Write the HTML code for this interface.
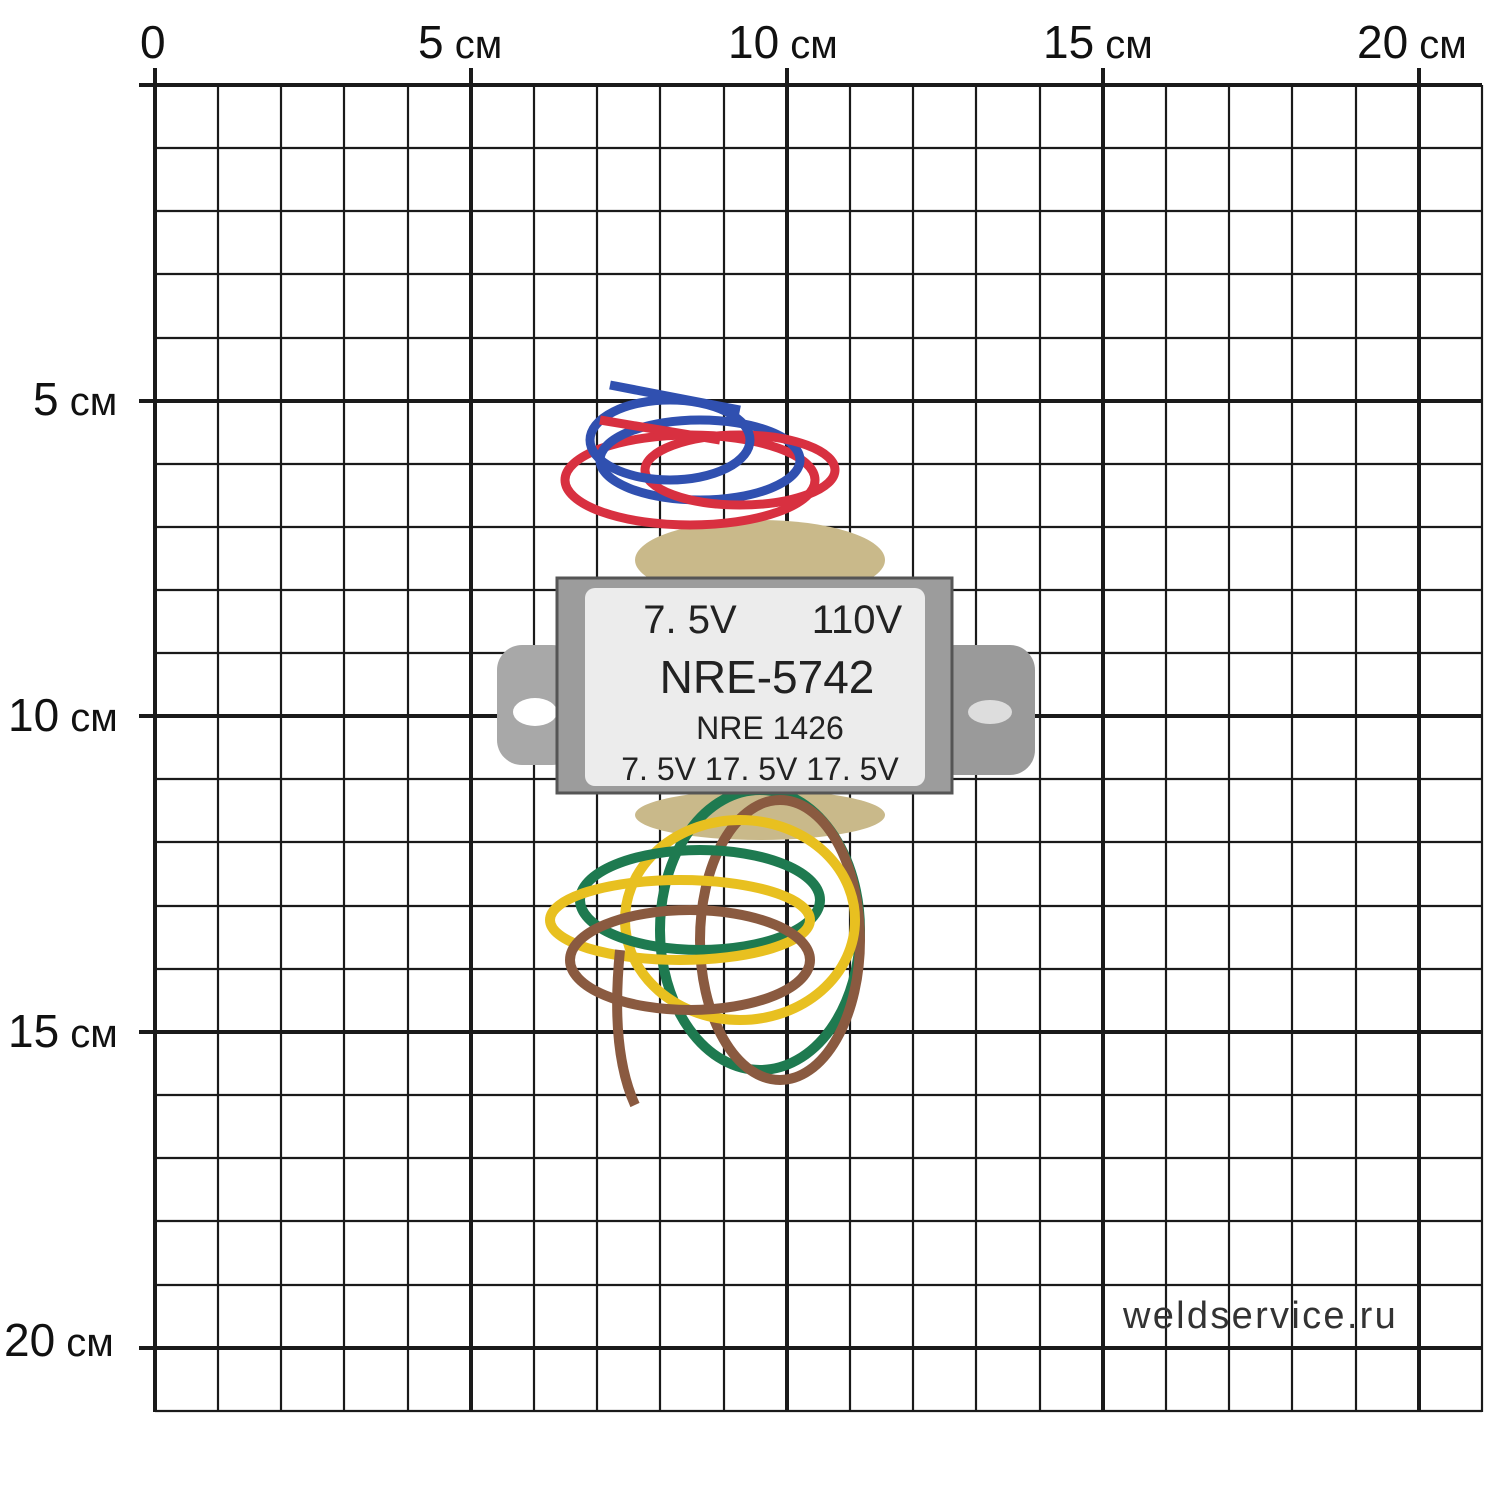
<!DOCTYPE html>
<html><head><meta charset="utf-8"><style>
html,body{margin:0;padding:0;background:#fff;}
svg{display:block}
</style></head><body>
<svg width="1500" height="1500" viewBox="0 0 1500 1500" xmlns="http://www.w3.org/2000/svg" font-family="Liberation Sans, sans-serif">
<rect width="1500" height="1500" fill="#fff"/>
<g stroke="#1a1a1a" stroke-width="2.2">
<path d="M218 85V1412M281 85V1412M344 85V1412M408 85V1412M534 85V1412M597 85V1412M660 85V1412M724 85V1412M850 85V1412M913 85V1412M976 85V1412M1040 85V1412M1166 85V1412M1229 85V1412M1292 85V1412M1356 85V1412M1482 85V1412"/>
<path d="M155 148H1482M155 211H1482M155 274H1482M155 338H1482M155 464H1482M155 527H1482M155 590H1482M155 653H1482M155 779H1482M155 842H1482M155 906H1482M155 969H1482M155 1095H1482M155 1158H1482M155 1221H1482M155 1285H1482M155 1411H1482"/>
</g>
<g stroke="#1a1a1a" stroke-width="4">
<path d="M155 68V1412M471 68V1412M787 68V1412M1103 68V1412M1419 68V1412"/>
<path d="M139 85H1482M139 401H1482M139 716H1482M139 1032H1482M139 1348H1482"/>
</g>
<g fill="#111" font-size="46">
<text x="140" y="58">0</text>
<text x="418" y="58">5<tspan font-size="40"> см</tspan></text>
<text x="728" y="58">10<tspan font-size="40"> см</tspan></text>
<text x="1043" y="58">15<tspan font-size="40"> см</tspan></text>
<text x="1357" y="58">20<tspan font-size="40"> см</tspan></text>
<text x="33" y="415">5<tspan font-size="40"> см</tspan></text>
<text x="8" y="731">10<tspan font-size="40"> см</tspan></text>
<text x="8" y="1047">15<tspan font-size="40"> см</tspan></text>
<text x="4" y="1356">20<tspan font-size="40"> см</tspan></text>
</g>
<text x="1123" y="1328" font-size="38" fill="#333" letter-spacing="2.3">weldservice.ru</text>
<!-- top wires -->
<ellipse cx="760" cy="560" rx="125" ry="40" fill="#c9b98a"/>
<g fill="none" stroke-width="9">
<ellipse cx="690" cy="480" rx="125" ry="45" stroke="#d83040"/>
<ellipse cx="700" cy="460" rx="100" ry="40" stroke="#3050b0"/>
<ellipse cx="740" cy="470" rx="95" ry="35" stroke="#d83040"/>
<ellipse cx="670" cy="440" rx="80" ry="40" stroke="#3050b0"/>
<path d="M610 385 L740 410" stroke="#3050b0"/>
<path d="M600 420 L720 440" stroke="#d83040"/>
</g>
<!-- bottom wires -->
<ellipse cx="760" cy="815" rx="125" ry="25" fill="#c9b98a"/>
<g fill="none" stroke-width="10">
<ellipse cx="760" cy="930" rx="100" ry="140" stroke="#1e7a50"/>
<ellipse cx="780" cy="940" rx="80" ry="140" stroke="#8a5a40"/>
<ellipse cx="740" cy="920" rx="115" ry="100" stroke="#e8c020"/>
<ellipse cx="700" cy="900" rx="120" ry="50" stroke="#1e7a50"/>
<ellipse cx="680" cy="920" rx="130" ry="40" stroke="#e8c020"/>
<ellipse cx="690" cy="960" rx="120" ry="50" stroke="#8a5a40"/>
<path d="M620 950 Q610 1050 635 1105" stroke="#8a5a40"/>
</g>
<!-- mounting tabs -->
<rect x="497" y="645" width="80" height="120" rx="25" fill="#a8a8a8"/>
<rect x="930" y="645" width="105" height="130" rx="25" fill="#9a9a9a"/>
<ellipse cx="535" cy="712" rx="22" ry="14" fill="#fff"/>
<ellipse cx="990" cy="712" rx="22" ry="12" fill="#ddd"/>
<!-- body -->
<rect x="557" y="578" width="395" height="215" fill="#9c9c9c" stroke="#555" stroke-width="3"/>
<rect x="585" y="588" width="340" height="198" rx="10" fill="#ececec"/>
<g fill="#222" text-anchor="middle">
<text x="690" y="633" font-size="40">7. 5V</text>
<text x="857" y="633" font-size="40">110V</text>
<text x="767" y="693" font-size="46">NRE-5742</text>
<text x="770" y="739" font-size="32">NRE 1426</text>
<text x="760" y="780" font-size="32">7. 5V 17. 5V 17. 5V</text>
</g>
</svg>
</body></html>
